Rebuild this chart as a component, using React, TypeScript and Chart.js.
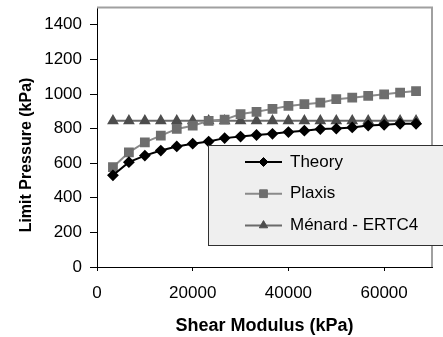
import React, { useEffect, useRef } from "react";
import { Chart, registerables } from "chart.js";
import { drawPoint } from "chart.js/helpers";

Chart.register(...registerables);

const shearModulus = [3333, 6667, 10000, 13333, 16667, 20000, 23333, 26667, 30000, 33333, 36667, 40000, 43333, 46667, 50000, 53333, 56667, 60000, 63333, 66667];
const theory = [530, 606, 644, 673, 697, 713, 725, 745, 754, 763, 770, 780, 788, 797, 800, 807, 818, 822, 828, 828];
const plaxis = [577, 663, 721, 759, 798, 817, 845, 852, 884, 897, 914, 931, 941, 950, 970, 979, 989, 998, 1008, 1017];
const menard = [845, 845, 845, 845, 845, 845, 845, 845, 845, 845, 845, 845, 845, 845, 845, 845, 845, 845, 845, 845];
const seriesNames = ["Theory", "Plaxis", "Ménard - ERTC4"];
const xTickValues = [0, 20000, 40000, 60000];
const yTickValues = [0, 200, 400, 600, 800, 1000, 1200, 1400];
const xTitle = "Shear Modulus (kPa)";
const yTitle = "Limit Pressure (kPa)";

const FONT = "'Liberation Sans', Arial, sans-serif";

const framePlugin = {
  id: "frame",
  beforeDatasetsDraw(chart: any) {
    const { ctx, chartArea: a } = chart;
    ctx.save();
    ctx.strokeStyle = "#a0a0a0";
    ctx.lineWidth = 2;
    ctx.beginPath();
    ctx.moveTo(a.left, a.top);
    ctx.lineTo(a.right, a.top);
    ctx.lineTo(a.right, a.bottom);
    ctx.stroke();
    ctx.restore();
  },
};

const yTitlePlugin = {
  id: "yTitle",
  afterDraw(chart: any, _args: any, opts: any) {
    const { ctx } = chart;
    ctx.save();
    ctx.translate(opts.x, opts.y);
    ctx.rotate(-Math.PI / 2);
    ctx.font = `bold 16px ${FONT}`;
    ctx.fillStyle = "#000";
    ctx.textAlign = "center";
    ctx.textBaseline = "middle";
    ctx.fillText(opts.text, 0, 0);
    ctx.restore();
  },
};

const boxLegendPlugin = {
  id: "boxLegend",
  afterDraw(chart: any, _args: any, opts: any) {
    const { ctx } = chart;
    ctx.save();
    ctx.fillStyle = "#efefef";
    ctx.fillRect(opts.left, opts.top, opts.width, opts.height);
    ctx.strokeStyle = "#303030";
    ctx.lineWidth = 1;
    ctx.strokeRect(opts.left + 0.5, opts.top + 0.5, opts.width, opts.height);
    chart.data.datasets.forEach((ds: any, i: number) => {
      const y = opts.firstY + i * opts.spacing;
      ctx.strokeStyle = ds.borderColor;
      ctx.lineWidth = ds.borderWidth;
      ctx.beginPath();
      ctx.moveTo(opts.lineStart, y);
      ctx.lineTo(opts.lineEnd, y);
      ctx.stroke();
      ctx.fillStyle = ds.pointBackgroundColor;
      ctx.strokeStyle = ds.pointBorderColor;
      ctx.lineWidth = 1;
      drawPoint(ctx, { pointStyle: ds.pointStyle, radius: ds.pointRadius, borderWidth: 1, rotation: 0 }, (opts.lineStart + opts.lineEnd) / 2, y);
      ctx.fillStyle = "#000";
      ctx.font = `17px ${FONT}`;
      ctx.textAlign = "left";
      ctx.textBaseline = "middle";
      ctx.fillText(ds.label, opts.textX, y);
    });
    ctx.restore();
  },
};

export default function App() {
  const ref = useRef<HTMLCanvasElement>(null);
  useEffect(() => {
    if (!ref.current) return;
    Chart.defaults.font.family = FONT;
    const mk = (arr: number[]) => arr.map((v, i) => ({ x: shearModulus[i], y: v }));
    const chart = new Chart(ref.current, {
      type: "line",
      data: {
        datasets: [
          {
            label: seriesNames[0],
            data: mk(theory),
            borderColor: "#000000",
            borderWidth: 2,
            pointStyle: "rectRot",
            pointRadius: 4.5,
            pointBackgroundColor: "#000000",
            pointBorderColor: "#000000",
            tension: 0,
          },
          {
            label: seriesNames[1],
            data: mk(plaxis),
            borderColor: "#8a8a8a",
            borderWidth: 2,
            pointStyle: "rect",
            pointRadius: 5.5,
            pointBackgroundColor: "#6e6e6e",
            pointBorderColor: "#6e6e6e",
            tension: 0,
          },
          {
            label: seriesNames[2],
            data: mk(menard),
            borderColor: "#6a6a6a",
            borderWidth: 2,
            pointStyle: "triangle",
            pointRadius: 4.8,
            pointBackgroundColor: "#4d4d4d",
            pointBorderColor: "#4d4d4d",
            tension: 0,
          },
        ],
      },
      options: {
        animation: false,
        responsive: false,
        devicePixelRatio: 1,
        layout: { padding: { top: 6, right: 11, left: 0, bottom: 0 } },
        plugins: {
          legend: { display: false },
          tooltip: { enabled: false },
          yTitle: { text: yTitle, x: 27, y: 155 },
          boxLegend: {
            left: 208, top: 145, width: 240, height: 100,
            firstY: 162, spacing: 31.7, lineStart: 245, lineEnd: 282, textX: 290,
          },
        } as any,
        scales: {
          x: {
            type: "linear",
            min: 0,
            max: 70000,
            afterBuildTicks: (s: any) => { s.ticks = xTickValues.map((v) => ({ value: v })); },
            afterFit: (s: any) => { s.height = 70; s.paddingLeft = 0; s.paddingRight = 0; },
            ticks: { color: "#000", font: { size: 17 }, padding: 12, maxRotation: 0, autoSkip: false, callback: (v: any) => String(v) },
            grid: { display: true, drawOnChartArea: false, drawTicks: true, tickLength: 4, color: "#000" },
            border: { display: true, color: "#000", width: 1 },
            title: { display: true, text: xTitle, color: "#000", font: { size: 18, weight: "bold" }, padding: { top: 0, bottom: 0 } },
          },
          y: {
            type: "linear",
            min: 0,
            max: 1500,
            afterBuildTicks: (s: any) => { s.ticks = yTickValues.map((v) => ({ value: v })); },
            afterFit: (s: any) => { s.width = 97; s.paddingTop = 0; s.paddingBottom = 0; },
            ticks: { color: "#000", font: { size: 17 }, padding: 8, autoSkip: false, callback: (v: any) => String(v) },
            grid: { display: true, drawOnChartArea: false, drawTicks: true, tickLength: 7, color: "#000" },
            border: { display: true, color: "#000", width: 1 },
          },
        },
      },
      plugins: [framePlugin, yTitlePlugin, boxLegendPlugin],
    });
    return () => chart.destroy();
  }, []);
  return (
    <div style={{ position: "absolute", left: 0, top: 0, width: 443, height: 337, background: "#fff" }}>
      <canvas ref={ref} width={443} height={337} style={{ display: "block" }} />
    </div>
  );
}
